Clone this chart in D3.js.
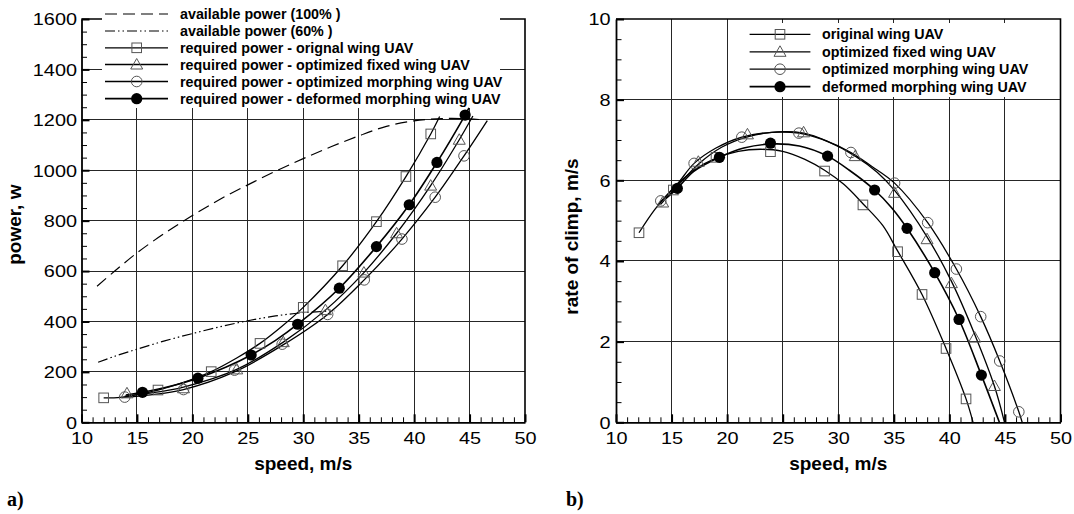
<!DOCTYPE html>
<html><head><meta charset="utf-8">
<script src="https://cdn.jsdelivr.net/npm/d3@7"></script>
<style>body{margin:0;background:#fff}</style>
</head><body>
<svg id="c" width="1074" height="514"></svg>
<script>
// ---------- tick labels ----------
const speedTicks = [10, 15, 20, 25, 30, 35, 40, 45, 50];
const powerTicks = [0, 200, 400, 600, 800, 1000, 1200, 1400, 1600];
const climbTicks = [0, 2, 4, 6, 8, 10];

// ---------- panel a: power ----------
const avail100Speed = [11.4, 13, 15, 17.5, 20, 22.5, 25, 27.5, 30, 32.5, 35, 37.5, 40, 42.5, 45, 46.4];
const avail100Power = [540, 600, 672, 750, 820, 885, 942, 996, 1046, 1093, 1136, 1174, 1196, 1205, 1204, 1199];
const avail60Speed = [11.5, 13, 15, 17.5, 20, 22.5, 25, 27.5, 30, 32.8];
const avail60Power = [238, 262, 290, 323, 352, 379, 403, 422, 435, 442];

const pwrOrigSpeed = [12.0, 16.9, 21.7, 26.1, 30.0, 33.55, 36.6, 39.26, 41.5];
const pwrOrigValue = [97, 128, 201, 313, 456, 621, 796, 975, 1144];
const pwrFixedSpeed = [14.1, 19.2, 24.0, 28.2, 32.0, 35.47, 38.42, 41.49, 44.07];
const pwrFixedValue = [115, 135, 210, 318, 445, 594, 750, 939, 1121];
const pwrMorphSpeed = [13.9, 19.2, 23.8, 28.1, 32.2, 35.5, 38.9, 41.9, 44.5];
const pwrMorphValue = [100, 130, 207, 310, 428, 565, 727, 893, 1057];
const pwrDefSpeed = [15.5, 20.5, 25.3, 29.5, 33.25, 36.6, 39.56, 42.06, 44.6];
const pwrDefValue = [119, 175, 267, 389, 532, 697, 863, 1031, 1219];

const pwrOrigFitSpeed = [12.0, 13.5, 15, 16.9, 19, 21.7, 24, 26.1, 28, 30.0, 33.55, 36.6, 39.26, 41.5, 42.3];
const pwrOrigFitValue = [97, 99, 110, 128, 155, 201, 255, 313, 378, 456, 621, 796, 975, 1144, 1213];
const pwrFixedFitSpeed = [13.9, 16, 19.2, 24.0, 28.2, 32.0, 35.47, 38.42, 41.49, 44.07, 45.3];
const pwrFixedFitValue = [104, 115, 140, 210, 318, 445, 594, 750, 939, 1121, 1215];
const pwrMorphFitSpeed = [13.6, 16, 19.2, 23.8, 28.1, 32.2, 35.5, 38.9, 41.9, 44.5, 46.6];
const pwrMorphFitValue = [98, 108, 130, 200, 305, 428, 565, 727, 893, 1057, 1197];
const pwrDefFitSpeed = [14.0, 15.5, 18, 20.5, 23, 25.3, 27.5, 29.5, 33.25, 36.6, 39.56, 42.06, 44.6, 44.95];
const pwrDefFitValue = [108, 119, 143, 175, 218, 267, 325, 389, 532, 697, 863, 1031, 1219, 1247];

// ---------- panel b: rate of climb ----------
const climbOrigSpeed = [12.07, 15.16, 19.0, 23.9, 28.77, 32.22, 35.34, 37.54, 39.7, 41.5];
const climbOrigValue = [4.70, 5.76, 6.57, 6.71, 6.23, 5.39, 4.23, 3.17, 1.83, 0.58];
const climbFixedSpeed = [14.2, 17.41, 21.83, 26.88, 31.53, 35.07, 37.99, 40.18, 42.28, 44.05];
const climbFixedValue = [5.45, 6.46, 7.14, 7.19, 6.60, 5.69, 4.54, 3.45, 2.10, 0.90];
const climbMorphSpeed = [14.03, 17.03, 21.32, 26.46, 31.14, 35.07, 38.05, 40.63, 42.82, 44.53, 46.25];
const climbMorphValue = [5.49, 6.42, 7.07, 7.17, 6.69, 5.93, 4.95, 3.80, 2.62, 1.52, 0.26];
const climbDefSpeed = [15.52, 19.31, 23.9, 29.04, 33.27, 36.19, 38.68, 40.87, 42.88];
const climbDefValue = [5.80, 6.57, 6.92, 6.60, 5.76, 4.81, 3.71, 2.55, 1.17];

const climbOrigFitSpeed = [12.07, 13.5, 15, 17, 19, 21, 23, 25, 27, 28.77, 30.5, 32.22, 34, 35.34, 37.54, 39.7, 41.5, 42.13];
const climbOrigFitValue = [4.70, 5.28, 5.76, 6.25, 6.55, 6.72, 6.77, 6.72, 6.52, 6.25, 5.90, 5.42, 4.88, 4.25, 3.17, 1.83, 0.58, 0];
const climbFixedFitSpeed = [14.0, 15.5, 17.41, 19.5, 21.83, 24.5, 26.88, 29, 31.53, 33.5, 35.07, 37.99, 40.18, 42.28, 44.05, 44.96];
const climbFixedFitValue = [5.40, 5.85, 6.40, 6.82, 7.08, 7.20, 7.17, 6.97, 6.60, 6.20, 5.75, 4.60, 3.50, 2.18, 0.90, 0];
const climbMorphFitSpeed = [13.7, 15.5, 17.03, 19, 21.32, 24, 26.46, 28.5, 31.14, 33, 35.07, 38.05, 40.63, 42.82, 44.53, 46.25, 46.55];
const climbMorphFitValue = [5.38, 5.90, 6.42, 6.80, 7.07, 7.19, 7.17, 7.02, 6.69, 6.35, 5.93, 4.95, 3.80, 2.62, 1.52, 0.26, 0];
const climbDefFitSpeed = [14.5, 15.52, 17, 19.31, 21.5, 23.9, 26.5, 29.04, 31, 33.27, 34.8, 36.19, 38.68, 40.87, 42.88, 44.5];
const climbDefFitValue = [5.55, 5.80, 6.22, 6.57, 6.80, 6.90, 6.85, 6.60, 6.25, 5.76, 5.32, 4.81, 3.71, 2.55, 1.17, 0];

const legendA = ["available power (100% )", "available power (60% )",
  "required power - orignal wing UAV", "required power - optimized fixed wing UAV",
  "required power - optimized morphing wing UAV", "required power - deformed morphing wing UAV"];
const legendB = ["original wing UAV", "optimized fixed wing UAV", "optimized morphing wing UAV", "deformed morphing wing UAV"];

// ---------- drawing ----------
const FONT = "'Liberation Sans', Arial, Helvetica, sans-serif";
const svg = d3.select("#c");
svg.append("rect").attr("width", 1074).attr("height", 514).attr("fill", "#fff");

const zip = (a, b) => a.map((v, i) => [v, b[i]]);

function marker(sel, type) {
  if (type === "square") {
    sel.append("rect").attr("x", -4.8).attr("y", -4.8).attr("width", 9.6).attr("height", 9.6)
      .attr("fill", "none").attr("stroke", "#555").attr("stroke-width", 1);
  } else if (type === "triangle") {
    sel.append("path").attr("d", "M0,-6 L6,4.5 L-6,4.5 Z")
      .attr("fill", "none").attr("stroke", "#555").attr("stroke-width", 1);
  } else if (type === "circle") {
    sel.append("circle").attr("r", 5.3).attr("fill", "none").attr("stroke", "#555").attr("stroke-width", 1);
  } else if (type === "filled") {
    sel.append("circle").attr("r", 5.6).attr("fill", "#000");
  }
}

function panel(p) {
  const x = d3.scaleLinear().domain([speedTicks[0], speedTicks[speedTicks.length - 1]]).range([p.left, p.right]);
  const y = d3.scaleLinear().domain([p.yTicks[0], p.yTicks[p.yTicks.length - 1]]).range([p.bottom, p.top]);
  const g = svg.append("g");

  // grid
  const grid = g.append("g").attr("stroke", "#262626").attr("stroke-width", 1).attr("shape-rendering", "crispEdges");
  grid.selectAll("line.gv").data(speedTicks.slice(1, -1)).join("line").attr("class", "gv")
    .attr("x1", d => x(d)).attr("x2", d => x(d)).attr("y1", p.bottom).attr("y2", p.top);
  grid.selectAll("line.gh").data(p.yTicks.slice(1, -1)).join("line").attr("class", "gh")
    .attr("y1", d => y(d)).attr("y2", d => y(d)).attr("x1", p.left).attr("x2", p.right);

  // frame top/right
  g.append("path").attr("d", `M${p.left},${p.top}H${p.right}V${p.bottom}`)
    .attr("fill", "none").attr("stroke", "#000").attr("stroke-width", 1.6);

  // legend background
  g.append("rect").attr("x", p.leg.bx).attr("y", p.leg.by).attr("width", p.leg.bw).attr("height", p.leg.bh).attr("fill", "#fff");

  // axes
  const xMinor = d3.range(speedTicks[0], speedTicks[speedTicks.length - 1] + 0.01, 1).filter(v => v % 5 !== 0);
  g.append("g").attr("transform", `translate(0,${p.bottom})`)
    .call(d3.axisBottom(x).tickValues(xMinor).tickSizeInner(-5).tickSizeOuter(0).tickFormat(""))
    .call(s => s.select(".domain").remove())
    .call(s => s.selectAll("line").attr("stroke", "#000").attr("stroke-width", 1));
  const xa = g.append("g").attr("transform", `translate(0,${p.bottom})`)
    .call(d3.axisBottom(x).tickValues(speedTicks).tickSizeInner(-8).tickSizeOuter(0).tickFormat(d3.format("d")));
  xa.select(".domain").attr("stroke", "#000").attr("stroke-width", 1.8);
  xa.selectAll(".tick line").attr("stroke", "#000").attr("stroke-width", 2);
  xa.selectAll(".tick text").attr("y", 22.2).attr("dy", null).attr("fill", "#000")
    .attr("font-size", 16.3).attr("font-family", FONT).attr("transform", "scale(1.22,1)");

  const yMinor = d3.range(p.yTicks[0], p.yTicks[p.yTicks.length - 1] + 1e-6, p.yMinorStep)
    .filter(v => !p.yTicks.some(t => Math.abs(t - v) < 1e-6));
  g.append("g").attr("transform", `translate(${p.left},0)`)
    .call(d3.axisLeft(y).tickValues(yMinor).tickSizeInner(-5.5).tickSizeOuter(0).tickFormat(""))
    .call(s => s.select(".domain").remove())
    .call(s => s.selectAll("line").attr("stroke", "#000").attr("stroke-width", 1));
  const ya = g.append("g").attr("transform", `translate(${p.left},0)`)
    .call(d3.axisLeft(y).tickValues(p.yTicks).tickSizeInner(-8).tickSizeOuter(0).tickFormat(d3.format("d")));
  ya.select(".domain").attr("stroke", "#000").attr("stroke-width", 1.8);
  ya.selectAll(".tick line").attr("stroke", "#000").attr("stroke-width", 2);
  ya.selectAll(".tick text").attr("x", -p.yLabelGap / 1.22).attr("y", 0).attr("dy", "0.355em").attr("fill", "#000")
    .attr("font-size", 16.3).attr("font-family", FONT).attr("transform", "scale(1.22,1)");

  // titles
  g.append("text").attr("x", (p.left + p.right) / 2).attr("y", p.xTitleY).attr("text-anchor", "middle")
    .attr("font-family", FONT).attr("font-weight", "bold").attr("font-size", 19).text("speed, m/s");
  g.append("text").attr("transform", `translate(${p.yTitleX},${p.yTitleY}) rotate(-90)`).attr("text-anchor", "middle")
    .attr("font-family", FONT).attr("font-weight", "bold").attr("font-size", 19).text(p.yTitle);

  // curves
  const line = d3.line().x(d => x(d[0])).y(d => y(d[1])).curve(d3.curveCatmullRom.alpha(0.5));
  p.curves.forEach(c => {
    g.append("path").attr("d", line(c.pts)).attr("fill", "none").attr("stroke", "#000")
      .attr("stroke-width", c.w || 1.3).attr("stroke-dasharray", c.dash || null);
  });
  // markers
  p.markers.forEach(m => {
    g.append("g").selectAll("g").data(m.pts).join("g")
      .attr("transform", d => `translate(${x(d[0])},${y(d[1])})`)
      .each(function () { marker(d3.select(this), m.type); });
  });

  // legend
  const L = p.leg;
  p.legendItems.forEach((it, i) => {
    const cy = L.rows[i];
    g.append("line").attr("x1", L.lx1).attr("x2", L.lx2).attr("y1", cy).attr("y2", cy)
      .attr("stroke", "#000").attr("stroke-width", it.w || 1.3).attr("stroke-dasharray", it.dash || null);
    if (it.type) marker(g.append("g").attr("transform", `translate(${L.mx},${cy})`), it.type);
    g.append("text").attr("x", L.tx).attr("y", cy + 5.1).attr("font-family", FONT).attr("font-weight", "bold")
      .attr("font-size", 14.3).attr("fill", "#000").text(it.label);
  });
  g.append("text").attr("x", p.tagX).attr("y", 506).attr("font-family", "'Liberation Serif', 'Times New Roman', serif")
    .attr("font-weight", "bold").attr("font-size", 20).text(p.tag);
}

const DASH100 = "12,6";
const DASH60 = "10,3,1.5,3,1.5,3";

panel({
  left: 81.5, right: 525, top: 19, bottom: 422.3,
  yTicks: powerTicks, yMinorStep: 50, yLabelGap: 4.5,
  xTitleY: 470, yTitleX: 21, yTitleY: 224.7, yTitle: "power, w",
  tag: "a)", tagX: 7,
  leg: { bx: 102, by: 0, bw: 398, bh: 108, lx1: 105, lx2: 168, mx: 136.7, tx: 180,
         rows: [14, 31, 47.8, 64.5, 81.5, 98.7] },
  curves: [
    { pts: zip(avail100Speed, avail100Power), dash: DASH100, w: 1.2 },
    { pts: zip(avail60Speed, avail60Power), dash: DASH60, w: 1.2 },
    { pts: zip(pwrOrigFitSpeed, pwrOrigFitValue) },
    { pts: zip(pwrFixedFitSpeed, pwrFixedFitValue) },
    { pts: zip(pwrMorphFitSpeed, pwrMorphFitValue) },
    { pts: zip(pwrDefFitSpeed, pwrDefFitValue), w: 1.6 }
  ],
  markers: [
    { type: "square", pts: zip(pwrOrigSpeed, pwrOrigValue) },
    { type: "triangle", pts: zip(pwrFixedSpeed, pwrFixedValue) },
    { type: "circle", pts: zip(pwrMorphSpeed, pwrMorphValue) },
    { type: "filled", pts: zip(pwrDefSpeed, pwrDefValue) }
  ],
  legendItems: [
    { label: legendA[0], dash: DASH100, w: 1.2 },
    { label: legendA[1], dash: DASH60, w: 1.2 },
    { label: legendA[2], type: "square" },
    { label: legendA[3], type: "triangle" },
    { label: legendA[4], type: "circle" },
    { label: legendA[5], type: "filled", w: 1.8 }
  ]
});

panel({
  left: 616, right: 1060.5, top: 19, bottom: 422.3,
  yTicks: climbTicks, yMinorStep: 0.5, yLabelGap: 5.5,
  xTitleY: 470, yTitleX: 578, yTitleY: 236.5, yTitle: "rate of climp, m/s",
  tag: "b)", tagX: 566,
  leg: { bx: 742, by: 23, bw: 294, bh: 74, lx1: 749.6, lx2: 810.4, mx: 780, tx: 822,
         rows: [34.3, 51.8, 69.2, 86.7] },
  curves: [
    { pts: zip(climbOrigFitSpeed, climbOrigFitValue) },
    { pts: zip(climbFixedFitSpeed, climbFixedFitValue) },
    { pts: zip(climbMorphFitSpeed, climbMorphFitValue) },
    { pts: zip(climbDefFitSpeed, climbDefFitValue), w: 1.6 }
  ],
  markers: [
    { type: "square", pts: zip(climbOrigSpeed, climbOrigValue) },
    { type: "triangle", pts: zip(climbFixedSpeed, climbFixedValue) },
    { type: "circle", pts: zip(climbMorphSpeed, climbMorphValue) },
    { type: "filled", pts: zip(climbDefSpeed, climbDefValue) }
  ],
  legendItems: [
    { label: legendB[0], type: "square" },
    { label: legendB[1], type: "triangle" },
    { label: legendB[2], type: "circle" },
    { label: legendB[3], type: "filled", w: 1.8 }
  ]
});
</script>
</body></html>
